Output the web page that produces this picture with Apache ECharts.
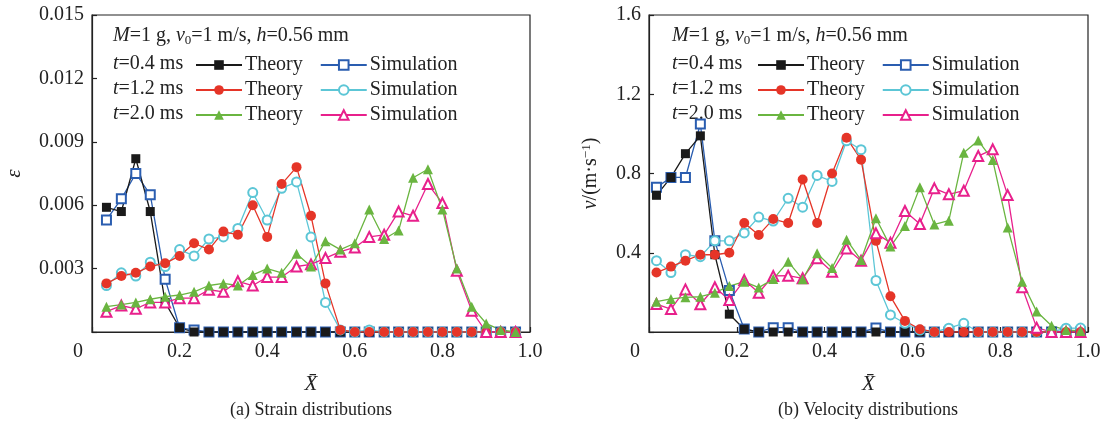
<!DOCTYPE html>
<html>
<head>
<meta charset="utf-8">
<script src="https://cdn.jsdelivr.net/npm/echarts@6/dist/echarts.min.js"></script>
<style>
  html, body { margin: 0; padding: 0; background: #fff; }
  #main { width: 1106px; height: 432px; }
</style>
</head>
<body>
<div id="main"></div>
<script>
var FONT = '"Liberation Serif", "Times New Roman", serif';

// x positions (normalised length X bar)
var xA = [0.033, 0.067, 0.100, 0.133, 0.167, 0.200, 0.233, 0.267, 0.300, 0.333,
          0.367, 0.400, 0.433, 0.467, 0.500, 0.533, 0.567, 0.600, 0.633, 0.667,
          0.700, 0.733, 0.767, 0.800, 0.833, 0.867, 0.900, 0.933, 0.967];
var xB = [0.017, 0.050, 0.083, 0.117, 0.150, 0.183, 0.217, 0.250, 0.283, 0.317,
          0.350, 0.383, 0.417, 0.450, 0.483, 0.517, 0.550, 0.583, 0.617, 0.650,
          0.683, 0.717, 0.750, 0.783, 0.817, 0.850, 0.883, 0.917, 0.950, 0.983];

// (a) strain
var strainT04 = [0.0059, 0.0057, 0.0082, 0.0057, 0.0014, 0.0002, 0, 0, 0, 0,
                 0, 0, 0, 0, 0, 0, 0, 0, 0, 0, 0, 0, 0, 0, 0, 0, 0, 0, 0];
var strainS04 = [0.0053, 0.0063, 0.0075, 0.0065, 0.0025, 0.0002, 0.0001, 0, 0, 0,
                 0, 0, 0, 0, 0, 0, 0, 0, 0, 0, 0, 0, 0, 0, 0, 0, 0, 0, 0];
var strainT12 = [0.0023, 0.00265, 0.0028, 0.0031, 0.00325, 0.0036, 0.0042, 0.0039, 0.00475, 0.0046,
                 0.0060, 0.0045, 0.0070, 0.0078, 0.0055, 0.0023, 0.0001, 0, 0, 0,
                 0, 0, 0, 0, 0, 0, 0, 0, 0];
var strainS12 = [0.0022, 0.0028, 0.00265, 0.0033, 0.0031, 0.0039, 0.0036, 0.0044, 0.0045, 0.0049,
                 0.0066, 0.0053, 0.0068, 0.0071, 0.0045, 0.0014, 0.0001, 0, 0.0001, 0,
                 0, 0, 0, 0, 0, 0, 0, 0, 0];
var strainT20 = [0.0012, 0.0013, 0.0014, 0.00155, 0.00167, 0.00175, 0.0019, 0.0022, 0.0023, 0.0022,
                 0.0027, 0.0030, 0.0028, 0.0037, 0.0031, 0.0043, 0.0039, 0.0042, 0.0058, 0.0044,
                 0.0048, 0.0073, 0.0077, 0.0058, 0.0030, 0.0012, 0.0004, 0.0001, 0];
var strainS20 = [0.00096, 0.00125, 0.0011, 0.0014, 0.0014, 0.0016, 0.0016, 0.0020, 0.0019, 0.0024,
                 0.0022, 0.0026, 0.0026, 0.0031, 0.0032, 0.0035, 0.0038, 0.0040, 0.0045, 0.0046,
                 0.0057, 0.0055, 0.0070, 0.0061, 0.0029, 0.0010, 0, 0, 0];

// (b) velocity
var velT04 = [0.69, 0.78, 0.90, 0.99, 0.39, 0.09, 0.014, 0, 0, 0,
              0, 0, 0, 0, 0, 0, 0, 0, 0, 0, 0, 0, 0, 0, 0, 0, 0, 0, 0, 0];
var velS04 = [0.73, 0.78, 0.78, 1.05, 0.46, 0.21, 0.015, 0, 0.022, 0.022,
              0, 0, 0, 0, 0, 0.02, 0, 0, 0, 0, 0, 0, 0, 0, 0, 0, 0, 0, 0, 0];
var velT12 = [0.30, 0.33, 0.36, 0.39, 0.39, 0.40, 0.55, 0.49, 0.57, 0.55,
              0.77, 0.55, 0.80, 0.98, 0.87, 0.46, 0.18, 0.056, 0.014, 0,
              0, 0, 0, 0, 0, 0, 0, 0, 0, 0];
var velS12 = [0.36, 0.30, 0.39, 0.38, 0.46, 0.46, 0.50, 0.58, 0.56, 0.675,
              0.63, 0.79, 0.76, 0.965, 0.92, 0.26, 0.086, 0.044, 0.01, 0,
              0.019, 0.044, 0, 0, 0, 0, 0, 0, 0.019, 0.02];
var velT20 = [0.153, 0.167, 0.175, 0.178, 0.198, 0.232, 0.254, 0.224, 0.267, 0.355,
              0.266, 0.397, 0.323, 0.466, 0.363, 0.574, 0.431, 0.535, 0.73, 0.543,
              0.562, 0.905, 0.966, 0.868, 0.528, 0.254, 0.103, 0.032, 0.01, 0.005];
var velS20 = [0.141, 0.116, 0.215, 0.14, 0.226, 0.161, 0.262, 0.198, 0.283, 0.284,
              0.271, 0.372, 0.304, 0.422, 0.36, 0.498, 0.451, 0.611, 0.545, 0.725,
              0.695, 0.713, 0.888, 0.922, 0.691, 0.226, 0.022, 0, 0, 0];

var styles = {
    T04: { color: '#1a1a1a', symbol: 'rect', size: 9 },
    S04: { color: '#2a5db0', symbol: 'emptyRect', size: 9 },
    T12: { color: '#e53528', symbol: 'circle', size: 10 },
    S12: { color: '#5cc6d6', symbol: 'emptyCircle', size: 9 },
    T20: { color: '#6ab540', symbol: 'triangle', size: 10 },
    S20: { color: '#e8208c', symbol: 'emptyTriangle', size: 10 }
};

function zip(xs, ys) {
    return ys.map(function (y, i) { return [xs[i], y]; });
}

function line(name, xs, ys, gi) {
    var s = styles[name];
    return {
        name: name,
        type: 'line',
        xAxisIndex: gi,
        yAxisIndex: gi,
        data: zip(xs, ys),
        symbol: s.symbol,
        symbolSize: s.size,
        showAllSymbol: true,
        lineStyle: { color: s.color, width: 1.3 },
        itemStyle: { color: s.color, borderWidth: 1.3 },
        animation: false
    };
}

var axisLine = { show: true, lineStyle: { color: '#222', width: 1.2 } };
var axisTick = { show: true, inside: true, length: 5, lineStyle: { color: '#222', width: 1.2 } };
var labelBase = { color: '#222', fontSize: 20, fontFamily: FONT };

function xAxis(gi) {
    return {
        type: 'value', gridIndex: gi, min: 0, max: 1, interval: 0.2,
        axisLine: axisLine, axisTick: axisTick, splitLine: { show: false },
        axisLabel: Object.assign({}, labelBase, {
            margin: 10,
            formatter: function (v) { return v === 0 ? '{z|0}' : v.toFixed(1); },
            rich: { z: { fontSize: 20, fontFamily: FONT, color: '#222', padding: [0, 28, 0, 0] } }
        }),
        name: '{x|X\u0304}',
        nameLocation: 'middle',
        nameGap: 42,
        nameTextStyle: { rich: { x: { fontSize: 21, fontFamily: FONT, fontStyle: 'italic', color: '#222' } } }
    };
}

function legendRow(left, top, a, b) {
    return {
        left: left, top: top, padding: 0,
        data: [a, b],
        itemWidth: 46, itemHeight: 12, itemGap: 17,
        selectedMode: false,
        textStyle: { color: '#222', fontSize: 20, fontFamily: FONT, padding: [0, 0, 0, -2] },
        formatter: function (n) { return n.charAt(0) === 'T' ? 'Theory' : 'Simulation'; }
    };
}

function txt(x, y, text, align, size) {
    return {
        type: 'text', x: x, y: y,
        style: {
            text: text, fill: '#222', fontSize: size || 20, fontFamily: FONT,
            align: align || 'left', verticalAlign: 'middle',
            rich: {
                i: { fontStyle: 'italic', fontSize: size || 20, fontFamily: FONT, fill: '#222' },
                s: { fontSize: 13, fontFamily: FONT, fill: '#222', padding: [9, 0, 0, 0] },
                n: { fontSize: size || 20, fontFamily: FONT, fill: '#222' }
            }
        }
    };
}

function annot(x0) {
    return [
        txt(x0, 36, '{i|M}{n|=1 g, }{i|v}{s|0}{n|=1 m/s, }{i|h}{n|=0.56 mm}'),
        txt(x0, 64, '{i|t}{n|=0.4 ms}'),
        txt(x0, 89, '{i|t}{n|=1.2 ms}'),
        txt(x0, 114, '{i|t}{n|=2.0 ms}')
    ];
}

var chart = echarts.init(document.getElementById('main'));

chart.setOption({
    backgroundColor: '#fff',
    animation: false,
    grid: [
        { left: 92, right: 576, top: 15, bottom: 100, show: true, borderColor: '#222', borderWidth: 1.2 },
        { left: 649, right: 18, top: 15, bottom: 100, show: true, borderColor: '#222', borderWidth: 1.2 }
    ],
    xAxis: [xAxis(0), xAxis(1)],
    yAxis: [{
        type: 'value', gridIndex: 0, min: 0, max: 0.015, interval: 0.003,
        axisLine: axisLine, axisTick: axisTick, splitLine: { show: false },
        axisLabel: Object.assign({}, labelBase, {
            margin: 8,
            formatter: function (v) { return v === 0 ? '' : v.toFixed(3); }
        }),
        name: '\u03b5', nameLocation: 'middle', nameGap: 67,
        nameTextStyle: { fontSize: 21, fontFamily: FONT, fontStyle: 'italic', color: '#222' }
    }, {
        type: 'value', gridIndex: 1, min: 0, max: 1.6, interval: 0.4,
        axisLine: axisLine, axisTick: axisTick, splitLine: { show: false },
        axisLabel: Object.assign({}, labelBase, {
            margin: 8,
            formatter: function (v) { return v === 0 ? '' : v.toFixed(1); }
        }),
        name: '{i|v}{n|/(m\u00b7s}{p|\u22121}{n|)}', nameLocation: 'middle', nameGap: 47,
        nameTextStyle: {
            rich: {
                i: { fontSize: 20, fontFamily: FONT, fontStyle: 'italic', color: '#222' },
                n: { fontSize: 20, fontFamily: FONT, color: '#222' },
                p: { fontSize: 13, fontFamily: FONT, color: '#222', padding: [0, 0, 9, 0] }
            }
        }
    }],
    legend: [
        legendRow(195, 55, 'T04', 'S04'),
        legendRow(195, 80, 'T12', 'S12'),
        legendRow(195, 105, 'T20', 'S20'),
        legendRow(757, 55, 'T04', 'S04'),
        legendRow(757, 80, 'T12', 'S12'),
        legendRow(757, 105, 'T20', 'S20')
    ],
    graphic: annot(113).concat(annot(672)).concat([
        txt(311, 410, '(a) Strain distributions', 'center', 18),
        txt(868, 410, '(b) Velocity distributions', 'center', 18)
    ]),
    series: [
        line('S04', xA, strainS04, 0),
        line('T04', xA, strainT04, 0),
        line('S12', xA, strainS12, 0),
        line('T12', xA, strainT12, 0),
        line('S20', xA, strainS20, 0),
        line('T20', xA, strainT20, 0),
        line('S04', xB, velS04, 1),
        line('T04', xB, velT04, 1),
        line('S12', xB, velS12, 1),
        line('T12', xB, velT12, 1),
        line('S20', xB, velS20, 1),
        line('T20', xB, velT20, 1)
    ]
});
</script>
</body>
</html>
